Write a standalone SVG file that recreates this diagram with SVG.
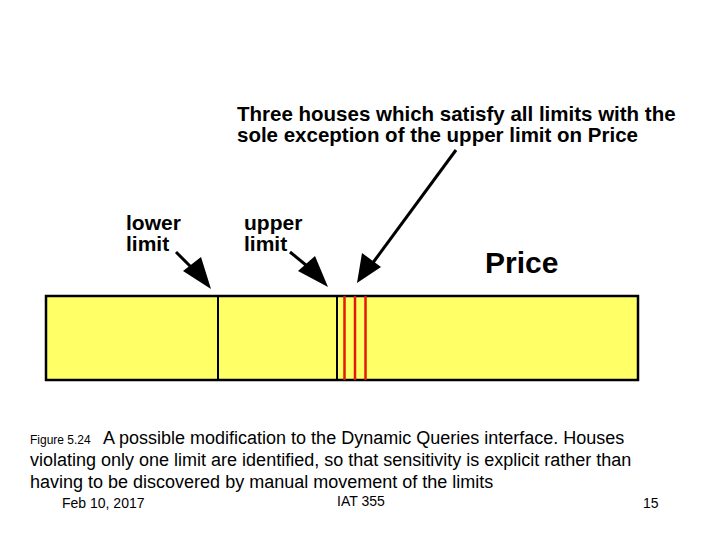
<svg xmlns="http://www.w3.org/2000/svg" width="720" height="540" viewBox="0 0 720 540">
<style>
.lbl{font-family:"Liberation Sans",Arial,sans-serif;font-weight:bold;font-size:21px;fill:#000}
.cap{font-family:"Liberation Sans",Arial,sans-serif;font-size:18px;fill:#000}
.ft{font-family:"Liberation Sans",Arial,sans-serif;font-size:14px;fill:#000}
.conn{stroke:#000;stroke-width:3;fill:none}
.red{stroke:#e01a0a;stroke-width:2.5}
</style>
<rect width="720" height="540" fill="#fff"/>
<g id="bar">
<rect x="46" y="296" width="592" height="84" fill="#ffff66" stroke="#000" stroke-width="2.5"/>
<line x1="218" y1="296" x2="218" y2="380" stroke="#000" stroke-width="2"/>
<line x1="337" y1="296" x2="337" y2="380" stroke="#000" stroke-width="2"/>
<line class="red" x1="344.5" y1="296" x2="344.5" y2="380"/>
<line class="red" x1="355" y1="296" x2="355" y2="380"/>
<line class="red" x1="365.5" y1="296" x2="365.5" y2="380"/>
</g>
<g id="lower-limit">
<text class="lbl" x="126" y="230">lower</text>
<text class="lbl" x="126" y="251">limit</text>
</g>
<g id="upper-limit">
<text class="lbl" x="244" y="230">upper</text>
<text class="lbl" x="244" y="251">limit</text>
</g>
<g id="houses-note">
<text class="lbl" x="237" y="121" style="font-size:20.5px">Three houses which satisfy all limits with the</text>
<text class="lbl" x="237" y="142" style="font-size:20.5px">sole exception of the upper limit on Price</text>
</g>
<g id="price">
<text class="lbl" x="485" y="273" style="font-size:30px">Price</text>
</g>
<g id="connectors">
<line class="conn" x1="176" y1="252" x2="196" y2="272"/>
<polygon points="211,289 183,271 201,257" fill="#000"/>
<line class="conn" x1="290" y1="252" x2="312" y2="270"/>
<polygon points="328,287 298,271 315,256" fill="#000"/>
<line class="conn" x1="456" y1="150" x2="372" y2="264"/>
<polygon points="357,283 362,253 381,267" fill="#000"/>
</g>
<g id="caption">
<text x="30" y="444" style="font-family:'Liberation Sans',Arial,sans-serif;font-size:12px">Figure 5.24</text>
<text class="cap" x="103" y="444">A possible modification to the Dynamic Queries interface. Houses</text>
<text class="cap" x="30" y="466">violating only one limit are identified, so that sensitivity is explicit rather than</text>
<text class="cap" x="30" y="488">having to be discovered by manual movement of the limits</text>
</g>
<g id="footer">
<text class="ft" x="62" y="508">Feb 10, 2017</text>
<text class="ft" x="337" y="506">IAT 355</text>
<text class="ft" x="643" y="508">15</text>
</g>
</svg>
